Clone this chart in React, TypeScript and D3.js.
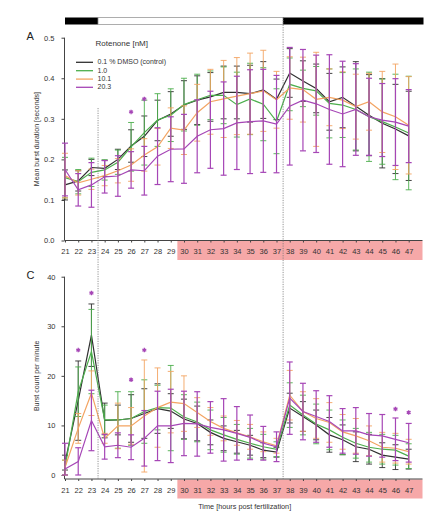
import { useEffect, useRef } from "react";
import * as d3 from "d3";

// hours post fertilization
const hours = [21, 22, 23, 24, 25, 26, 27, 28, 29, 30, 31, 32, 33, 34, 35, 36, 37, 38, 39, 40, 41, 42, 43, 44, 45, 46, 47];
const lightsOn = 23.5;
const lightsOff = 37.5;
const shadeFrom = 29.5;

const seriesNames = ["0.1 % DMSO (control)", "1.0", "10.1", "20.3"];
const seriesColors = ["#303030", "#4cae4c", "#f3a462", "#a646b6"];

// panel A: mean burst duration [s]
const durControl = [0.137, 0.147, 0.18, 0.178, 0.2, 0.233, 0.257, 0.296, 0.312, 0.334, 0.346, 0.354, 0.365, 0.365, 0.362, 0.371, 0.348, 0.413, 0.393, 0.375, 0.342, 0.353, 0.331, 0.309, 0.289, 0.275, 0.258];
const durControlSd = [0.037, 0.025, 0.02, 0.02, 0.025, 0.04, 0.05, 0.05, 0.055, 0.06, 0.06, 0.06, 0.065, 0.065, 0.07, 0.07, 0.05, 0.06, 0.05, 0.06, 0.07, 0.075, 0.11, 0.1, 0.11, 0.11, 0.11];
const dur1 = [0.155, 0.145, 0.168, 0.174, 0.193, 0.231, 0.266, 0.297, 0.309, 0.335, 0.347, 0.358, 0.358, 0.335, 0.349, 0.336, 0.294, 0.385, 0.375, 0.369, 0.338, 0.334, 0.323, 0.305, 0.293, 0.28, 0.265];
const dur1Sd = [0.05, 0.03, 0.035, 0.025, 0.03, 0.06, 0.08, 0.065, 0.065, 0.065, 0.063, 0.06, 0.07, 0.08, 0.088, 0.09, 0.08, 0.065, 0.045, 0.06, 0.085, 0.08, 0.1, 0.11, 0.105, 0.13, 0.14];
const dur10 = [0.16, 0.142, 0.151, 0.16, 0.172, 0.186, 0.211, 0.231, 0.277, 0.272, 0.315, 0.342, 0.349, 0.356, 0.362, 0.369, 0.347, 0.376, 0.372, 0.348, 0.353, 0.346, 0.33, 0.342, 0.317, 0.305, 0.284];
const dur10Sd = [0.055, 0.03, 0.025, 0.025, 0.03, 0.04, 0.04, 0.045, 0.05, 0.06, 0.07, 0.08, 0.095, 0.095, 0.1, 0.1, 0.07, 0.077, 0.08, 0.116, 0.07, 0.07, 0.08, 0.07, 0.1, 0.13, 0.12];
const dur20 = [0.175, 0.125, 0.137, 0.157, 0.159, 0.174, 0.172, 0.208, 0.225, 0.226, 0.257, 0.273, 0.276, 0.29, 0.293, 0.295, 0.287, 0.331, 0.346, 0.337, 0.323, 0.312, 0.323, 0.305, 0.297, 0.292, 0.282];
const dur20Sd = [0.065, 0.04, 0.055, 0.04, 0.05, 0.045, 0.06, 0.07, 0.08, 0.085, 0.09, 0.095, 0.115, 0.115, 0.128, 0.127, 0.12, 0.145, 0.125, 0.12, 0.135, 0.13, 0.113, 0.095, 0.09, 0.107, 0.09];
const durStarHours = [26, 27];
const durStarValues = [0.317, 0.349];
const durTicks = [0, 0.1, 0.2, 0.3, 0.4, 0.5];

// panel C: burst count per minute
const cntControl = [2.5, 15, 28.2, 11, 11.1, 11.4, 12.4, 13.4, 12.9, 11.3, 10.4, 8.6, 7.4, 6.7, 6, 5, 4.6, 13.5, 11.8, 10.1, 8.1, 7.1, 5.7, 5.2, 4, 3.6, 3.2];
const cntControlSd = [1.5, 8, 6.3, 3.5, 3, 4.8, 5, 5, 3.5, 4, 3.5, 2.5, 2.5, 2.3, 2, 1.5, 1, 3, 3, 3, 3.5, 3, 3, 3, 2.5, 2.5, 2];
const cnt1 = [1.5, 16.8, 24.9, 11.1, 11.1, 11.4, 12.8, 13.6, 13.5, 11.7, 10.7, 9.1, 8.1, 7.2, 6.4, 5.7, 5.2, 14.1, 12.1, 10.3, 9.1, 7.6, 6.4, 5.6, 5.2, 5, 3.8];
const cnt1Sd = [1.5, 5, 8.5, 3, 5.7, 5.4, 6.4, 4.5, 8.6, 4.5, 4, 4, 3.5, 3, 3, 2.5, 1.5, 4.5, 4, 4, 4, 3.5, 3, 3, 3, 3, 2.5];
const cnt10 = [1.5, 9.4, 16.5, 7.4, 9.9, 9.9, 11.9, 13.6, 14.7, 14.4, 12.6, 10.8, 9.4, 8.5, 7.7, 6.7, 5.9, 16.1, 12.8, 11.4, 10.6, 8.7, 7.9, 6.9, 5.6, 5.4, 4.7];
const cnt10Sd = [1.5, 3, 4.5, 1, 4.6, 3.7, 11.3, 8, 6.2, 5.6, 3, 2.8, 2.5, 2.5, 2.5, 2, 1.5, 5, 4, 4, 4, 3.5, 3.5, 3, 3, 3, 2.5];
const cnt20 = [1.2, 2.7, 11, 5.7, 6, 5.6, 7.4, 9.9, 9.9, 10.4, 10.3, 9.6, 9.1, 8.4, 7.6, 6.4, 5.7, 15.5, 12.8, 11.8, 10.8, 8.9, 8.9, 8.1, 7.9, 7.2, 6.5];
const cnt20Sd = [5.2, 2.8, 6.1, 2.5, 2.5, 2.5, 5.6, 7, 7.4, 6.5, 6.5, 5.2, 6.3, 5.4, 4.5, 3.4, 3, 7.3, 5.7, 5.2, 5.2, 4.5, 4.7, 4.3, 4.3, 4.3, 3.9];
const cntStarHours = [22, 23, 26, 27, 46, 47];
const cntStarValues = [25.2, 36.7, 19.2, 25.2, 13.3, 12.6];
const cntTicks = [0, 10, 20, 30, 40];

const FONT = "'Liberation Sans', Arial, sans-serif";

export default function App() {
  const ref = useRef<SVGSVGElement | null>(null);

  useEffect(() => {
    if (!ref.current) return;
    const svg = d3.select(ref.current);
    svg.selectAll("*").remove();

    const x = d3.scaleLinear().domain([21, 47]).range([65, 408.7]);
    const axisLeftX = 64.5;
    const axisRight = 422.5;

    // light/dark bar
    const barY = 17.5, barH = 7;
    svg.append("rect").attr("x", x(21)).attr("y", barY).attr("width", x(lightsOn) - x(21)).attr("height", barH).attr("fill", "#000");
    svg.append("rect").attr("x", x(lightsOn)).attr("y", barY).attr("width", x(lightsOff) - x(lightsOn)).attr("height", barH)
      .attr("fill", "#fff").attr("stroke", "#999").attr("stroke-width", 0.8);
    svg.append("rect").attr("x", x(lightsOff)).attr("y", barY).attr("width", axisRight + 1 - x(lightsOff)).attr("height", barH).attr("fill", "#000");

    type Panel = {
      top: number; zero: number; axisY: number; domainMax: number; ticks: number[]; fmt: (d: number) => string;
      means: number[][]; sds: number[][]; starHours: number[]; starValues: number[];
      letter: string; ylabel: string; labelPad: number; tickPad: number;
    };

    const drawPanel = (p: Panel) => {
      const y = d3.scaleLinear().domain([0, p.domainMax]).range([p.zero, p.top]);
      const g = svg.append("g");

      // pink band behind hour labels
      g.append("rect").attr("x", x(shadeFrom)).attr("y", p.axisY + 0.5)
        .attr("width", axisRight - x(shadeFrom)).attr("height", 19).attr("fill", "#f6a8a8");

      // y axis
      const ya = g.append("g").attr("transform", `translate(${axisLeftX},0)`)
        .call(d3.axisLeft(y).tickValues(p.ticks).tickFormat(p.fmt as any).tickSize(3).tickSizeOuter(0).tickPadding(p.tickPad));
      ya.select(".domain").remove();
      ya.selectAll("text").attr("font-family", FONT).attr("font-size", 7.5).attr("fill", "#333");
      ya.selectAll("line").attr("stroke", "#444");
      g.append("line").attr("x1", axisLeftX).attr("x2", axisLeftX).attr("y1", p.top).attr("y2", p.axisY)
        .attr("stroke", "#444").attr("stroke-width", 1);

      // x axis
      const xa = g.append("g").attr("transform", `translate(0,${p.axisY})`)
        .call(d3.axisBottom(x).tickValues(hours).tickFormat(d3.format("d") as any).tickSize(2).tickSizeOuter(0).tickPadding(p.labelPad));
      xa.select(".domain").remove();
      xa.selectAll("text").attr("font-family", FONT).attr("font-size", 7.5).attr("fill", "#333");
      xa.selectAll("line").attr("stroke", "#444");
      g.append("line").attr("x1", axisLeftX).attr("x2", axisRight).attr("y1", p.axisY).attr("y2", p.axisY)
        .attr("stroke", "#444").attr("stroke-width", 1);

      // series
      const line = d3.line<number>().x((_, i) => x(hours[i])).y(d => y(d));
      p.means.forEach((m, si) => {
        const color = seriesColors[si];
        const sg = g.append("g");
        const eb = sg.selectAll("g.eb").data(m).enter().append("g")
          .attr("stroke", color).attr("stroke-width", si === 3 ? 1.2 : 0.9);
        const lo = (d: number, i: number) => y(Math.max(0, d - p.sds[si][i]));
        const hi = (d: number, i: number) => y(d + p.sds[si][i]);
        eb.append("line").attr("x1", (_, i) => x(hours[i])).attr("x2", (_, i) => x(hours[i])).attr("y1", lo).attr("y2", hi);
        eb.append("line").attr("x1", (_, i) => x(hours[i]) - 3).attr("x2", (_, i) => x(hours[i]) + 3).attr("y1", lo).attr("y2", lo);
        eb.append("line").attr("x1", (_, i) => x(hours[i]) - 3).attr("x2", (_, i) => x(hours[i]) + 3).attr("y1", hi).attr("y2", hi);
        sg.append("path").datum(m).attr("d", line).attr("fill", "none").attr("stroke", color).attr("stroke-width", 1.2);
      });

      // significance stars
      const star = d3.symbol().type(d3.symbolAsterisk).size(14);
      g.selectAll("path.star").data(p.starHours).enter().append("path")
        .attr("d", star as any)
        .attr("transform", (h, i) => `translate(${x(h)},${y(p.starValues[i])})`)
        .attr("fill", "none").attr("stroke", seriesColors[3]).attr("stroke-width", 1.3);

      // panel letter
      g.append("text").attr("x", 26.5).attr("y", p.top + 2.5).text(p.letter)
        .attr("font-family", FONT).attr("font-size", 11).attr("fill", "#222");

      // y label
      g.append("text").attr("transform", `translate(37,${(p.top + p.zero) / 2}) rotate(-90)`)
        .attr("text-anchor", "middle").attr("dominant-baseline", "middle")
        .attr("font-family", FONT).attr("font-size", 7).attr("fill", "#333").text(p.ylabel);
    };

    drawPanel({
      top: 37.7, zero: 240.5, axisY: 240.5, domainMax: 0.5, ticks: durTicks, fmt: d3.format(".1f"),
      means: [durControl, dur1, dur10, dur20], sds: [durControlSd, dur1Sd, dur10Sd, dur20Sd],
      starHours: durStarHours, starValues: durStarValues, letter: "A", ylabel: "Mean burst duration [seconds]",
      labelPad: 6.5, tickPad: 7,
    });
    drawPanel({
      top: 276.7, zero: 475, axisY: 479, domainMax: 40, ticks: cntTicks, fmt: d3.format("d"),
      means: [cntControl, cnt1, cnt10, cnt20], sds: [cntControlSd, cnt1Sd, cnt10Sd, cnt20Sd],
      starHours: cntStarHours, starValues: cntStarValues, letter: "C", ylabel: "Burst count per minute",
      labelPad: 7, tickPad: 6,
    });

    // day/night transitions
    svg.append("line").attr("x1", x(lightsOn)).attr("x2", x(lightsOn)).attr("y1", 108).attr("y2", 479)
      .attr("stroke", "#777").attr("stroke-width", 0.8).attr("stroke-dasharray", "1.2,1.2");
    svg.append("line").attr("x1", x(lightsOff)).attr("x2", x(lightsOff)).attr("y1", barY).attr("y2", 479)
      .attr("stroke", "#777").attr("stroke-width", 0.8).attr("stroke-dasharray", "1.2,1.2");

    // legend
    const lg = svg.append("g");
    lg.append("text").attr("x", 95.5).attr("y", 46).text("Rotenone [nM]")
      .attr("font-family", FONT).attr("font-size", 8).attr("fill", "#333");
    const rowY = [62.3, 70.7, 79.1, 87.3];
    seriesNames.forEach((name, i) => {
      lg.append("line").attr("x1", 76).attr("x2", 93).attr("y1", rowY[i]).attr("y2", rowY[i])
        .attr("stroke", seriesColors[i]).attr("stroke-width", 1.3);
      lg.append("text").attr("x", 97.5).attr("y", rowY[i]).attr("dominant-baseline", "middle").text(name)
        .attr("font-family", FONT).attr("font-size", 7).attr("fill", "#333");
    });

    // x axis title
    svg.append("text").attr("x", 244.7).attr("y", 507.5).attr("text-anchor", "middle").attr("dominant-baseline", "middle")
      .text("Time [hours post fertilization]").attr("font-family", FONT).attr("font-size", 7.3).attr("fill", "#333");
  }, []);

  return (
    <svg ref={ref} width={432} height={531} style={{ position: "absolute", left: 0, top: 0, background: "#fff" }} />
  );
}
